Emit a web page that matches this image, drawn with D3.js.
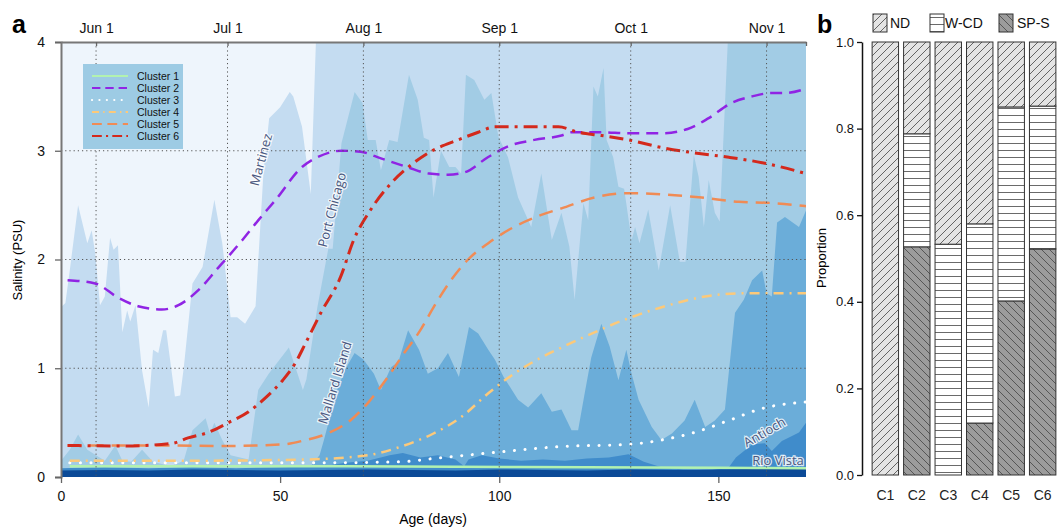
<!DOCTYPE html>
<html>
<head>
<meta charset="utf-8">
<script src="https://cdn.jsdelivr.net/npm/d3@7"></script>
<style>
  body { margin: 0; background: #fff; }
  text { font-family: "Liberation Sans", Arial, sans-serif; }
  .station { font-family: "Open Sans", sans-serif; font-size: 13px; fill: #4a5880;
             stroke: #fff; stroke-width: 2.5px; paint-order: stroke; stroke-opacity: 0.8; }
</style>
</head>
<body>
<svg id="chart" width="1061" height="528"></svg>
<script>
// ---- station salinity (PSU) by age in days: [day, value]
const martinez = [[0,1.56],[1,1.6],[2,1.9],[3.9,2.5],[6,2.15],[7,2.27],[7.8,2.06],[8.9,1.58],[10,1.66],[11.2,2.2],[12,2.09],[13,2.13],[14,1.33],[15.1,1.53],[15.8,1.43],[17,1.58],[18.5,0.98],[20,0.64],[21,1.17],[22.2,1.14],[23.3,1.35],[24,1.35],[26,0.74],[27.2,0.75],[28,1.0],[30,1.78],[32.3,1.93],[35,2.55],[36.8,2.15],[38.7,1.47],[40.2,1.47],[42,1.41],[44.4,1.57],[46.2,2.8],[47.5,3.3],[50,3.4],[52.2,3.54],[53,3.5],[55,3.22],[57,2.6],[58.5,4.4],[170,4.4]];
const portChicago = [[0,0.15],[2,0.25],[3.9,0.39],[6,0.25],[8,0.2],[10,0.15],[12.4,0.29],[14,0.15],[16,0.14],[18.5,0.25],[21,0.14],[25,0.1],[28,0.15],[30,0.43],[33,0.54],[34,0.4],[35,0.5],[36.8,0.34],[38.7,0.2],[42.8,0.16],[45,0.8],[47.4,0.95],[52,1.19],[55.2,0.8],[56,0.9],[58.5,1.56],[61,2.1],[62,2.1],[64,3.07],[67,3.54],[68.8,3.44],[70,3.1],[71.8,3.1],[73,2.82],[74.9,3.1],[76.8,3.08],[79.4,3.7],[81.4,3.47],[82.8,3.12],[84,3.1],[85,2.57],[86.7,3.0],[88.6,2.85],[90,2.85],[91.3,2.79],[92.4,3.7],[94.3,3.65],[96.6,3.47],[98.2,3.53],[99.8,3.13],[102,2.94],[104.3,2.57],[107.3,2.3],[109.6,2.79],[112,2.18],[114.2,2.43],[116,2.12],[117.2,1.63],[119.2,2.52],[120.3,2.36],[121.5,3.59],[122.5,3.5],[123.8,3.76],[124.5,3.1],[126,2.94],[127.2,2.67],[128.5,2.65],[130.2,2.18],[131,2.3],[132,2.15],[134,2.46],[136.4,1.9],[139,2.5],[141.2,1.98],[142.5,1.98],[144.4,2.96],[145.5,2.76],[146.7,2.3],[147.8,2.73],[149.2,2.43],[150.3,2.35],[152.6,4.4],[170,4.4]];
const mallardIsland = [[0,0.05],[20,0.05],[40,0.06],[55,0.07],[57,0.1],[59,0.2],[60,0.34],[63,0.8],[65,1.0],[67,1.14],[69,1.08],[71.4,0.95],[73,0.8],[75.3,1.01],[77,1.06],[79.2,1.35],[81.7,1.17],[83.7,0.95],[86,1.0],[88.3,1.14],[90.8,0.92],[93.1,1.38],[95.2,1.32],[97.5,1.17],[99,1.08],[101,0.92],[104.3,0.71],[106.6,0.64],[109.6,0.77],[112,0.6],[114.2,0.62],[116.5,0.43],[118,0.43],[119.5,0.77],[121,1.1],[123.3,1.41],[125.2,1.2],[127.2,0.89],[129,1.17],[130.2,0.95],[131.8,0.71],[134.8,0.46],[137,0.34],[139.4,0.4],[142.3,0.52],[144.6,0.71],[147,0.46],[149.2,0.52],[151.5,0.62],[153.8,1.51],[155.8,1.63],[157.7,1.81],[160,1.9],[161,1.69],[162.2,1.66],[163.4,2.34],[165.2,2.39],[168.4,2.3],[170,2.45]];
const antioch = [[0,0.08],[10,0.09],[20,0.08],[30,0.09],[40,0.08],[50,0.09],[60,0.1],[65,0.13],[70,0.15],[75,0.2],[78,0.22],[82,0.18],[86,0.2],[90,0.16],[92,0.1],[93,0.16],[96,0.2],[100,0.17],[105,0.15],[110,0.16],[115,0.15],[120,0.17],[125,0.18],[129.5,0.21],[133,0.14],[137,0.09],[142,0.07],[148,0.06],[152.4,0.09],[154,0.18],[157.7,0.3],[160.6,0.31],[162.2,0.24],[164.5,0.33],[166,0.36],[168.4,0.41],[170,0.5]];
const rioVista = [[0,0.06],[10,0.065],[20,0.06],[30,0.07],[40,0.065],[50,0.06],[60,0.065],[70,0.07],[80,0.065],[90,0.06],[100,0.07],[110,0.065],[120,0.06],[130,0.07],[140,0.065],[150,0.07],[160,0.075],[170,0.08]];

// ---- cluster mean salinity curves: [day, value]
const cluster1 = [[2,0.1],[30,0.1],[60,0.1],[90,0.095],[120,0.09],[150,0.085],[170,0.08]];
const cluster2 = [[1.5,1.81],[7.8,1.78],[13,1.65],[17.6,1.57],[23,1.54],[26.8,1.58],[31.4,1.72],[36,1.93],[38,2.02],[41.4,2.18],[45,2.36],[49,2.55],[55,2.85],[58.5,2.94],[64,3.0],[68.4,2.99],[73,2.93],[79,2.85],[84,2.79],[88.3,2.78],[92,2.8],[97.4,2.94],[102,3.04],[108,3.1],[114.2,3.14],[116.5,3.17],[123.3,3.17],[129.5,3.16],[137,3.16],[143,3.2],[147.8,3.3],[153,3.44],[157.7,3.5],[162,3.53],[165,3.53],[170,3.57]];
const cluster3 = [[2,0.13],[30,0.13],[60,0.13],[77.6,0.14],[85,0.17],[97.5,0.22],[114.2,0.28],[129.5,0.3],[137,0.34],[144.6,0.41],[152.4,0.52],[160,0.63],[170,0.69]];
const cluster4 = [[2,0.15],[30,0.15],[55,0.16],[70,0.2],[77.6,0.28],[85,0.4],[91.3,0.55],[97.5,0.77],[103.4,0.95],[109.6,1.1],[114.2,1.19],[119.5,1.29],[129.5,1.46],[138.7,1.58],[147,1.66],[156,1.69],[170,1.69]];
const cluster5 = [[1.5,0.29],[25,0.29],[38,0.285],[50.6,0.3],[55.8,0.34],[60.8,0.4],[66,0.52],[70,0.68],[74.6,0.92],[78.3,1.14],[82,1.35],[85,1.56],[89,1.81],[92.9,2.0],[97.5,2.15],[103.4,2.3],[109.6,2.41],[114.2,2.47],[121.7,2.57],[129.5,2.61],[137,2.6],[146.2,2.57],[154.7,2.53],[162,2.52],[170,2.49]];
const cluster6 = [[1.5,0.29],[14,0.285],[25.4,0.31],[29,0.36],[33.6,0.41],[38.2,0.5],[42.8,0.6],[46.7,0.73],[50.6,0.89],[53.5,1.05],[55.8,1.23],[59.3,1.51],[63.8,1.84],[66.8,2.18],[70.7,2.46],[75.3,2.7],[79.9,2.87],[83.8,2.98],[90.6,3.1],[95.2,3.17],[99,3.22],[108,3.22],[113.5,3.22],[118,3.17],[123.3,3.14],[129.5,3.1],[137,3.03],[144.6,2.98],[152.4,2.94],[160,2.89],[170,2.79]];

const monthDays = [8, 38, 69, 100, 130, 161];
const monthLabels = ["Jun 1", "Jul 1", "Aug 1", "Sep 1", "Oct 1", "Nov 1"];

// ---- panel b: proportion of each cluster
const clusterNames = ["C1", "C2", "C3", "C4", "C5", "C6"];
const spS = [0, 0.527, 0, 0.12, 0.402, 0.522];
const wCD = [0, 0.261, 0.533, 0.46, 0.448, 0.33];
const nd  = [1, 0.212, 0.467, 0.42, 0.15, 0.148];

const svg = d3.select("#chart");
const defs = svg.append("defs");

// ================= panel a =================
const x = d3.scaleLinear().domain([0, 170]).range([61, 806]);
const y = d3.scaleLinear().domain([0, 4]).range([477, 42]);

defs.append("clipPath").attr("id", "plotclip")
  .append("rect").attr("x", 61).attr("y", 42).attr("width", 745).attr("height", 435);

svg.append("rect").attr("x", 61).attr("y", 42).attr("width", 745).attr("height", 435)
  .attr("fill", "#eef5fc");

const plot = svg.append("g").attr("clip-path", "url(#plotclip)");

const area = d3.area().x(d => x(d[0])).y0(y(0)).y1(d => y(d[1]));
const stations = [
  {data: martinez, color: "#c4dcf1"},
  {data: portChicago, color: "#a2cce5"},
  {data: mallardIsland, color: "#6badd9"},
  {data: antioch, color: "#408ccb"},
  {data: rioVista, color: "#0b4a97"}
];
plot.selectAll("path.station")
  .data(stations)
  .join("path")
  .attr("d", d => area(d.data))
  .attr("fill", d => d.color);

// dotted grid
const grid = svg.append("g").attr("stroke", "#555").attr("stroke-width", 1).attr("stroke-dasharray", "1.2,3");
grid.selectAll("line.v").data(monthDays).join("line")
  .attr("x1", d => x(d)).attr("x2", d => x(d)).attr("y1", y(4)).attr("y2", y(0));
grid.selectAll("line.h").data([1, 2, 3]).join("line")
  .attr("x1", x(0)).attr("x2", x(170)).attr("y1", d => y(d)).attr("y2", d => y(d));

// station labels
const labels = [
  {t: "Martinez", x: 262, y: 160, r: -75},
  {t: "Port Chicago", x: 333, y: 210, r: -75},
  {t: "Mallard Island", x: 336, y: 383, r: -73},
  {t: "Antioch", x: 765, y: 433, r: -30},
  {t: "Rio Vista", x: 778, y: 462, r: 0}
];
svg.selectAll("text.station").data(labels).join("text")
  .attr("class", "station")
  .attr("text-anchor", "middle")
  .attr("dominant-baseline", "middle")
  .attr("transform", d => `translate(${d.x},${d.y}) rotate(${d.r})`)
  .text(d => d.t);

// cluster lines
const line = d3.line().x(d => x(d[0])).y(d => y(d[1])).curve(d3.curveMonotoneX);
const clusters = [
  {name: "Cluster 1", data: cluster1, color: "#b2f2b0", dash: null, w: 2.5, cap: "butt"},
  {name: "Cluster 2", data: cluster2, color: "#9024e4", dash: "12,7", w: 2.5, cap: "butt"},
  {name: "Cluster 3", data: cluster3, color: "#ffffff", dash: "0.1,10.5", w: 3, cap: "round"},
  {name: "Cluster 4", data: cluster4, color: "#fcc97a", dash: "10,6,2,6", w: 2.5, cap: "butt"},
  {name: "Cluster 5", data: cluster5, color: "#f08b55", dash: "14,8", w: 2.5, cap: "butt"},
  {name: "Cluster 6", data: cluster6, color: "#d4291c", dash: "14,6,3,6", w: 3, cap: "butt"}
];
plot.selectAll("path.cluster").data(clusters).join("path")
  .attr("d", d => line(d.data))
  .attr("fill", "none")
  .attr("stroke", d => d.color)
  .attr("stroke-width", d => d.w)
  .attr("stroke-dasharray", d => d.dash)
  .attr("stroke-linecap", d => d.cap);

// legend
const lg = svg.append("g");
lg.append("rect").attr("x", 83).attr("y", 64).attr("width", 100).attr("height", 85).attr("fill", "#9dcbe4");
const items = lg.selectAll("g").data(clusters).join("g")
  .attr("transform", (d, i) => `translate(0,${76 + i * 12})`);
items.append("line").attr("x1", 92).attr("x2", 128)
  .attr("stroke", d => d.color).attr("stroke-width", 2.2)
  .attr("stroke-dasharray", d => d.dash ? d.dash.split(",").map(v => v * 0.7).join(",") : null)
  .attr("stroke-linecap", d => d.cap);
items.append("text").attr("x", 137).attr("dy", "0.35em").attr("font-size", 10.5).attr("fill", "#111").text(d => d.name);

// axes
const yAxis = svg.append("g").attr("transform", `translate(61,0)`)
  .call(d3.axisLeft(y).tickValues([0, 1, 2, 3, 4]).tickFormat(d3.format("d")).tickSize(6).tickPadding(10));
const xAxis = svg.append("g").attr("transform", `translate(0,477)`)
  .call(d3.axisBottom(x).tickValues([0, 50, 100, 150]).tickSize(6).tickPadding(8));
xAxis.select(".domain").remove();
const topAxis = svg.append("g").attr("transform", `translate(0,42)`)
  .call(d3.axisTop(x).tickValues(monthDays.concat([170])).tickFormat((d, i) => monthLabels[i] || "")
    .tickSizeInner(-4).tickSizeOuter(0).tickPadding(9));
[yAxis, xAxis, topAxis].forEach(g => {
  g.selectAll("text").attr("font-size", 14).attr("fill", "#111")
    .attr("font-family", "'Liberation Sans', Arial, sans-serif");
  g.selectAll("line").attr("stroke", "#666").attr("stroke-width", 1.3);
  g.select(".domain").attr("stroke", "#777").attr("stroke-width", 2);
});

svg.append("text").attr("x", 433).attr("y", 524).attr("text-anchor", "middle")
  .attr("font-size", 14).text("Age (days)");
svg.append("text").attr("transform", "translate(22,260) rotate(-90)").attr("text-anchor", "middle")
  .attr("font-size", 13).text("Salinity (PSU)");
svg.append("text").attr("x", 12).attr("y", 33).attr("font-size", 25).attr("font-weight", "bold").text("a");

// ================= panel b =================
const hatch = (id, bg, path, size) => {
  const p = defs.append("pattern").attr("id", id).attr("patternUnits", "userSpaceOnUse")
    .attr("width", size).attr("height", size);
  p.append("rect").attr("width", size).attr("height", size).attr("fill", bg);
  p.append("path").attr("d", path).attr("stroke", "#444").attr("stroke-width", 0.8).attr("fill", "none");
};
hatch("pND", "#e4e4e4", "M0,8 L8,0 M-2,2 L2,-2 M6,10 L10,6", 8);
hatch("pWCD", "#ffffff", "M0,3.5 L7,3.5", 7);
hatch("pSPS", "#9c9c9c", "M0,0 L8,8 M-2,6 L2,10 M6,-2 L10,2", 8);

const xb = d3.scaleBand().domain(clusterNames).range([869.6, 1058.4]).paddingInner(0.16).paddingOuter(0.08);
const yb = d3.scaleLinear().domain([0, 1]).range([475, 42]);

const table = clusterNames.map((c, i) => ({c: c, "SP-S": spS[i], "W-CD": wCD[i], "ND": nd[i]}));
const keys = ["SP-S", "W-CD", "ND"];
const fills = {"SP-S": "url(#pSPS)", "W-CD": "url(#pWCD)", "ND": "url(#pND)"};
const series = d3.stack().keys(keys)(table);

svg.append("g").selectAll("g").data(series).join("g")
  .attr("fill", d => fills[d.key])
  .selectAll("rect").data(d => d.filter(s => s[1] - s[0] > 0)).join("rect")
  .attr("x", d => xb(d.data.c))
  .attr("y", d => yb(d[1]))
  .attr("width", xb.bandwidth())
  .attr("height", d => yb(d[0]) - yb(d[1]))
  .attr("stroke", "#333").attr("stroke-width", 1);

const ybAxis = svg.append("g").attr("transform", "translate(862,0)")
  .call(d3.axisLeft(yb).tickValues([0, 0.2, 0.4, 0.6, 0.8, 1]).tickFormat(d3.format(".1f")).tickSize(5).tickPadding(3).tickSizeOuter(0));
ybAxis.selectAll("text").attr("font-size", 13).attr("fill", "#111");
ybAxis.selectAll("line").attr("stroke", "#111").attr("stroke-width", 1.3);
ybAxis.select(".domain").attr("stroke", "#111").attr("stroke-width", 1.5);

svg.append("g").selectAll("text").data(clusterNames).join("text")
  .attr("x", d => xb(d) + xb.bandwidth() / 2).attr("y", 500)
  .attr("text-anchor", "middle").attr("font-size", 14).attr("fill", "#222").text(d => d);

svg.append("text").attr("transform", "translate(826,258) rotate(-90)").attr("text-anchor", "middle")
  .attr("font-size", 13).text("Proportion");
svg.append("text").attr("x", 817).attr("y", 33).attr("font-size", 25).attr("font-weight", "bold").text("b");

const legendB = [
  {k: "ND", bx: 873, tx: 890},
  {k: "W-CD", bx: 930, tx: 945},
  {k: "SP-S", bx: 999, tx: 1017}
];
const lb = svg.append("g").selectAll("g").data(legendB).join("g");
lb.append("rect").attr("x", d => d.bx).attr("y", 14).attr("width", 14).attr("height", 18)
  .attr("fill", d => fills[d.k]).attr("stroke", "#333").attr("stroke-width", 1);
lb.append("text").attr("x", d => d.tx).attr("y", 28).attr("font-size", 14).attr("fill", "#111").text(d => d.k);
</script>
</body>
</html>
